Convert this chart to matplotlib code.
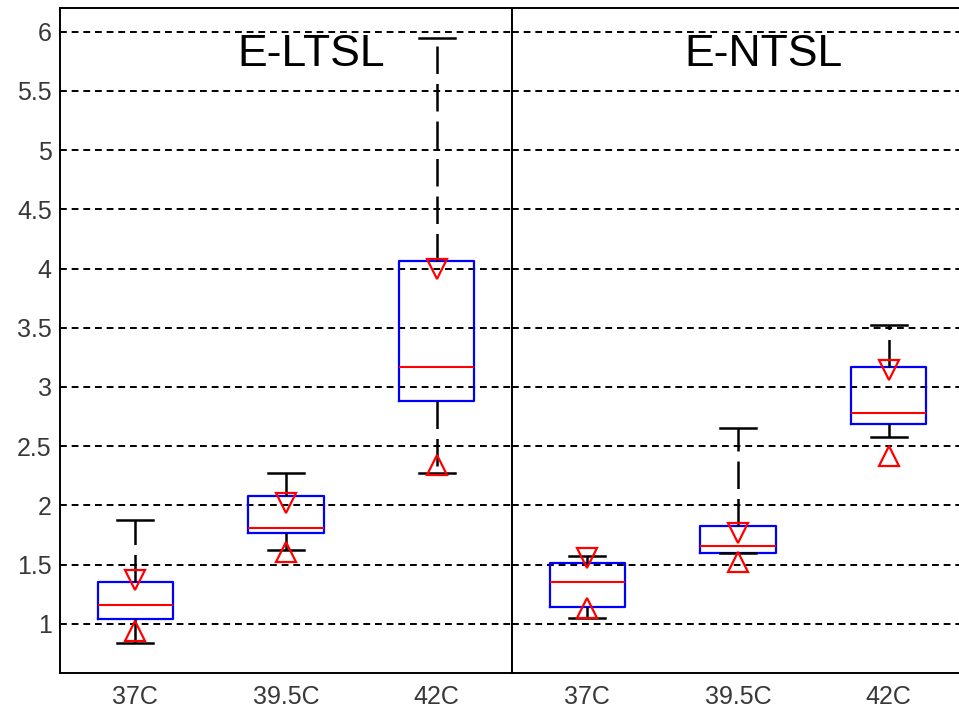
import matplotlib
matplotlib.use("Agg")
from matplotlib import pyplot as plt

plt.rcParams['font.family'] = ['Liberation Sans', 'DejaVu Sans']

# categories and box summaries
groups = ["37C", "39.5C", "42C"]
titles = ["E-LTSL", "E-NTSL"]

# E-LTSL
ltsl_whislo = [0.84, 1.62, 2.27]
ltsl_q1 = [1.04, 1.77, 2.88]
ltsl_med = [1.16, 1.81, 3.17]
ltsl_q3 = [1.35, 2.08, 4.06]
ltsl_whishi = [1.88, 2.27, 5.95]
ltsl_cilo = [0.94, 1.61, 2.34]
ltsl_cihi = [1.37, 2.02, 4.00]

# E-NTSL
ntsl_whislo = [1.05, 1.60, 2.58]
ntsl_q1 = [1.14, 1.60, 2.69]
ntsl_med = [1.35, 1.66, 2.78]
ntsl_q3 = [1.51, 1.83, 3.17]
ntsl_whishi = [1.57, 2.65, 3.52]
ntsl_cilo = [1.13, 1.52, 2.42]
ntsl_cihi = [1.56, 1.77, 3.14]

yticks = [1, 1.5, 2, 2.5, 3, 3.5, 4, 4.5, 5, 5.5, 6]
ytick_labels = ["1", "1.5", "2", "2.5", "3", "3.5", "4", "4.5", "5", "5.5", "6"]

panels = [
    (ltsl_whislo, ltsl_q1, ltsl_med, ltsl_q3, ltsl_whishi, ltsl_cilo, ltsl_cihi),
    (ntsl_whislo, ntsl_q1, ntsl_med, ntsl_q3, ntsl_whishi, ntsl_cilo, ntsl_cihi),
]

fig = plt.figure(figsize=(9.59, 7.15), dpi=100)
W, H = 959.0, 715.0
ax_left = fig.add_axes([60 / W, 42 / H, 452 / W, 665 / H])
ax_right = fig.add_axes([512 / W, 42 / H, 452 / W, 665 / H])

positions = [1, 2, 3]
for ax, title, data in zip([ax_left, ax_right], titles, panels):
    whislo, q1, med, q3, whishi, cilo, cihi = data
    stats = []
    for i in range(len(groups)):
        stats.append(dict(label=groups[i], whislo=whislo[i], q1=q1[i], med=med[i],
                          q3=q3[i], whishi=whishi[i], fliers=[]))
    ax.bxp(stats, positions=positions, widths=0.5, showfliers=False,
           boxprops=dict(color="blue", linewidth=1.6),
           medianprops=dict(color="red", linewidth=1.5),
           whiskerprops=dict(color="black", linewidth=1.8, linestyle=(0, (11, 4))),
           capprops=dict(color="black", linewidth=1.8),
           capwidths=0.24)
    # notch markers
    ax.plot(positions, cihi, linestyle="none", marker="v", markersize=14,
            markerfacecolor="none", markeredgecolor="red", markeredgewidth=1.6, zorder=4)
    ax.plot(positions, cilo, linestyle="none", marker="^", markersize=14,
            markerfacecolor="none", markeredgecolor="red", markeredgewidth=1.6, zorder=4)

    ax.set_xlim(0.5, 3.5)
    ax.set_ylim(0.585, 6.2)
    ax.set_yticks(yticks)
    ax.yaxis.grid(True, color="black", linestyle=(0, (3.5, 2.5)), linewidth=1.4)
    ax.set_axisbelow(True)
    ax.set_xticks(positions)
    ax.set_xticklabels(groups)
    ax.tick_params(axis="both", length=0, labelsize=18, colors="#383838")
    ax.tick_params(axis="x", pad=9)
    ax.tick_params(axis="y", pad=6)
    for s in ax.spines.values():
        s.set_linewidth(1.4)
        s.set_color("black")
    ax.text(0.556, 0.93, title, transform=ax.transAxes, ha="center", va="center",
            fontsize=32, color="black")

ax_left.set_yticklabels(ytick_labels)
ax_right.set_yticklabels([])

fig.savefig("out.png", dpi=100)
